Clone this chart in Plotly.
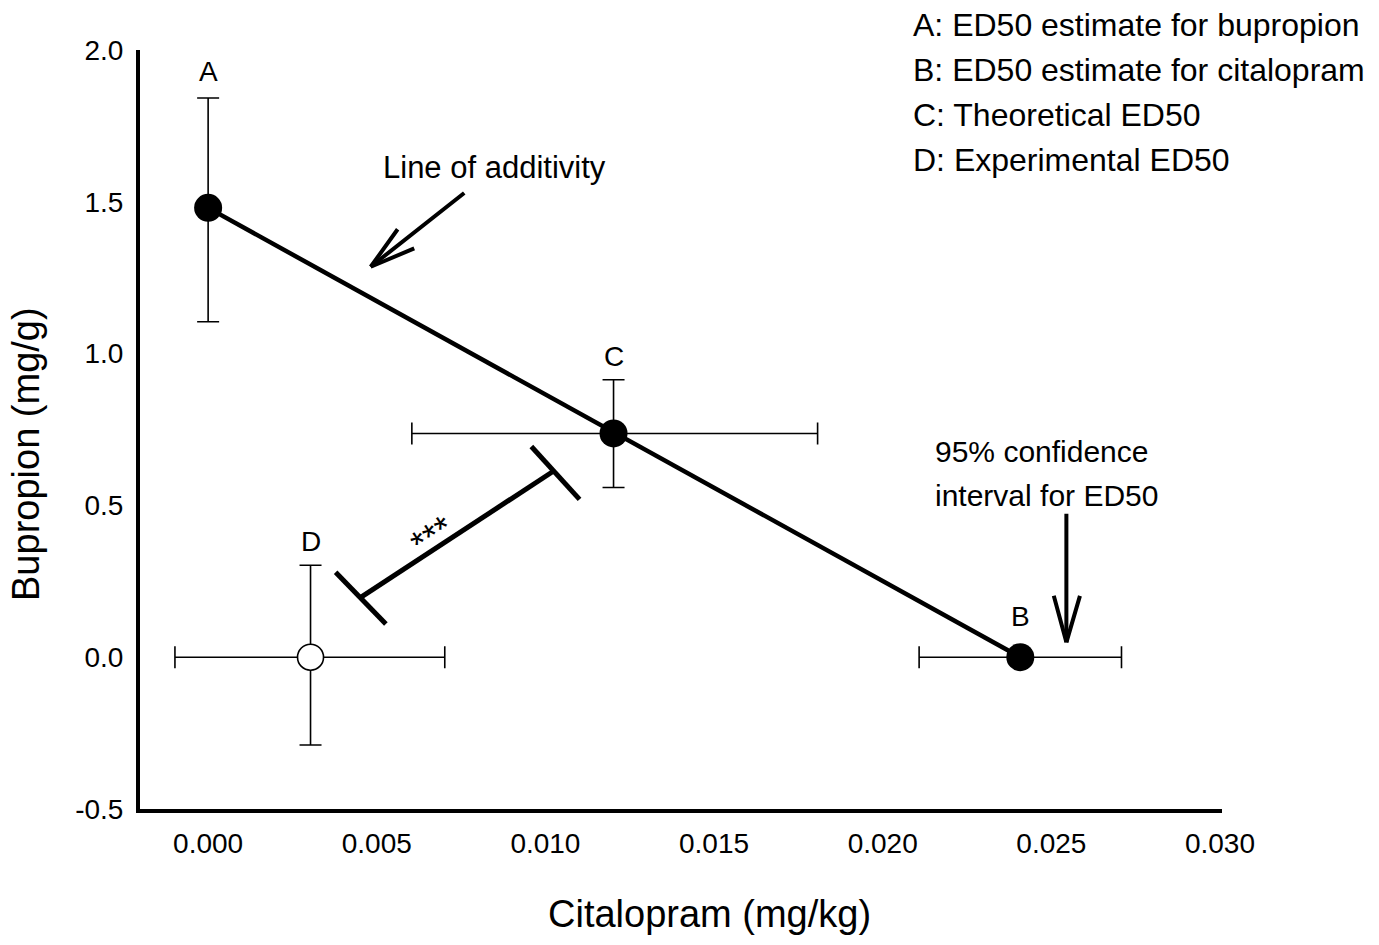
import plotly.graph_objects as go

# Data
labels = ["A", "B", "C"]
x_filled = [0.0, 0.02408, 0.01202]
y_filled = [1.48, 0.0, 0.737]
ex_plus = [0.0, 0.0030, 0.00605]
ex_minus = [0.0, 0.0030, 0.00598]
ey_plus = [0.362, 0.0, 0.177]
ey_minus = [0.375, 0.0, 0.178]

x_open = [0.003036]
y_open = [0.0]
exo_plus = [0.00398]
exo_minus = [0.00402]
eyo_plus = [0.303]
eyo_minus = [0.289]

line_x = [0.0, 0.02408]
line_y = [1.48, 0.0]

# significance bracket (data coords)
br_x = [0.004524, 0.010268]
br_y = [0.197, 0.615]
cap1_x = [0.00378, 0.00527]
cap1_y = [0.280, 0.109]
cap2_x = [0.009583, 0.011012]
cap2_y = [0.694, 0.520]

legend_lines = ["A: ED50 estimate for bupropion", "B: ED50 estimate for citalopram",
                "C: Theoretical ED50", "D: Experimental ED50"]

x_ticks = [0.000, 0.005, 0.010, 0.015, 0.020, 0.025, 0.030]
x_ticktext = ["0.000", "0.005", "0.010", "0.015", "0.020", "0.025", "0.030"]
y_ticks = [-0.5, 0.0, 0.5, 1.0, 1.5, 2.0]
y_ticktext = ["-0.5", "0.0", "0.5", "1.0", "1.5", "2.0"]

FONT = "Liberation Sans, Arial, sans-serif"

fig = go.Figure()

fig.add_trace(go.Scatter(x=line_x, y=line_y, mode="lines",
                         line=dict(color="black", width=4.5), showlegend=False, hoverinfo="skip"))

fig.add_trace(go.Scatter(
    x=x_filled, y=y_filled, mode="markers",
    marker=dict(color="black", size=28, line=dict(width=0)),
    error_x=dict(type="data", symmetric=False, array=ex_plus, arrayminus=ex_minus,
                 color="black", thickness=1.6, width=11),
    error_y=dict(type="data", symmetric=False, array=ey_plus, arrayminus=ey_minus,
                 color="black", thickness=1.6, width=11),
    showlegend=False))

fig.add_trace(go.Scatter(
    x=x_open, y=y_open, mode="markers",
    marker=dict(color="white", size=26, line=dict(width=1.6, color="black")),
    error_x=dict(type="data", symmetric=False, array=exo_plus, arrayminus=exo_minus,
                 color="black", thickness=1.6, width=11),
    error_y=dict(type="data", symmetric=False, array=eyo_plus, arrayminus=eyo_minus,
                 color="black", thickness=1.6, width=11),
    showlegend=False))

for bx, by in [(br_x, br_y), (cap1_x, cap1_y), (cap2_x, cap2_y)]:
    fig.add_trace(go.Scatter(x=bx, y=by, mode="lines",
                             line=dict(color="black", width=5), showlegend=False, hoverinfo="skip"))

annotations = []
# point labels
for txt, ax_, ay_ in [("A", 0.0, 1.928), ("C", 0.01202, 0.99), ("D", 0.003036, 0.38), ("B", 0.02408, 0.135)]:
    annotations.append(dict(x=ax_, y=ay_, text=txt, showarrow=False,
                            font=dict(size=28, color="black", family=FONT)))


def arrow(x, y, ax, ay):
    return dict(x=x, y=y, ax=ax, ay=ay, text="", showarrow=True, arrowhead=0,
                arrowwidth=4, arrowcolor="black", standoff=0, startstandoff=0)


# Line of additivity arrow (shaft + open V head)
tip1 = (0.004821, 1.286)
annotations.append(arrow(*tip1, 95, -75))
annotations.append(arrow(*tip1, 28, -39))
annotations.append(arrow(*tip1, 45, -19))
annotations.append(dict(x=0.0085, y=1.612, text="Line of additivity", showarrow=False,
                        font=dict(size=31, color="black", family=FONT)))

# 95% CI arrow
tip2 = (0.025446, 0.049)
annotations.append(arrow(*tip2, 0, -130))
annotations.append(arrow(*tip2, -13, -48))
annotations.append(arrow(*tip2, 14, -48))
annotations.append(dict(x=0.02149, y=0.678, xanchor="left", yanchor="middle",
                        text="95% confidence", showarrow=False,
                        font=dict(size=30, color="black", family=FONT)))
annotations.append(dict(x=0.02149, y=0.533, xanchor="left", yanchor="middle",
                        text="interval for ED50", showarrow=False,
                        font=dict(size=30, color="black", family=FONT)))

annotations.append(dict(x=0.00664, y=0.40, text="***", showarrow=False, textangle=-33,
                        font=dict(size=36, color="black", family=FONT)))

for i, t in enumerate(legend_lines):
    annotations.append(dict(xref="paper", yref="paper", x=0.7123, y=1.0, yanchor="middle",
                            xanchor="left", showarrow=False, text=t,
                            yshift=25 - i * 45,
                            font=dict(size=32, color="black", family=FONT)))

# axis titles
annotations.append(dict(xref="paper", yref="paper", x=0.5259, y=-0.1383, text="Citalopram (mg/kg)",
                        showarrow=False, xanchor="center", yanchor="middle",
                        font=dict(size=38, color="black", family=FONT)))
annotations.append(dict(xref="paper", yref="paper", x=-0.1054, y=0.4677, text="Bupropion (mg/g)",
                        showarrow=False, xanchor="center", yanchor="middle", textangle=-90,
                        font=dict(size=38, color="black", family=FONT)))

fig.update_layout(
    width=1379, height=945,
    margin=dict(l=140, r=157, t=50, b=136),
    paper_bgcolor="white", plot_bgcolor="white",
    font=dict(family=FONT, color="black"),
    annotations=annotations,
    xaxis=dict(range=[-0.00202, 0.03006], showline=True, linewidth=4, linecolor="black",
               showgrid=False, zeroline=False, ticks="", tickvals=x_ticks, ticktext=x_ticktext,
               ticklabelstandoff=6, tickfont=dict(size=28)),
    yaxis=dict(range=[-0.5, 2.0], showline=True, linewidth=4, linecolor="black",
               showgrid=False, zeroline=False, ticks="", tickvals=y_ticks, ticktext=y_ticktext,
               ticklabelstandoff=7, tickfont=dict(size=28)),
)

fig.write_html("out.html")
